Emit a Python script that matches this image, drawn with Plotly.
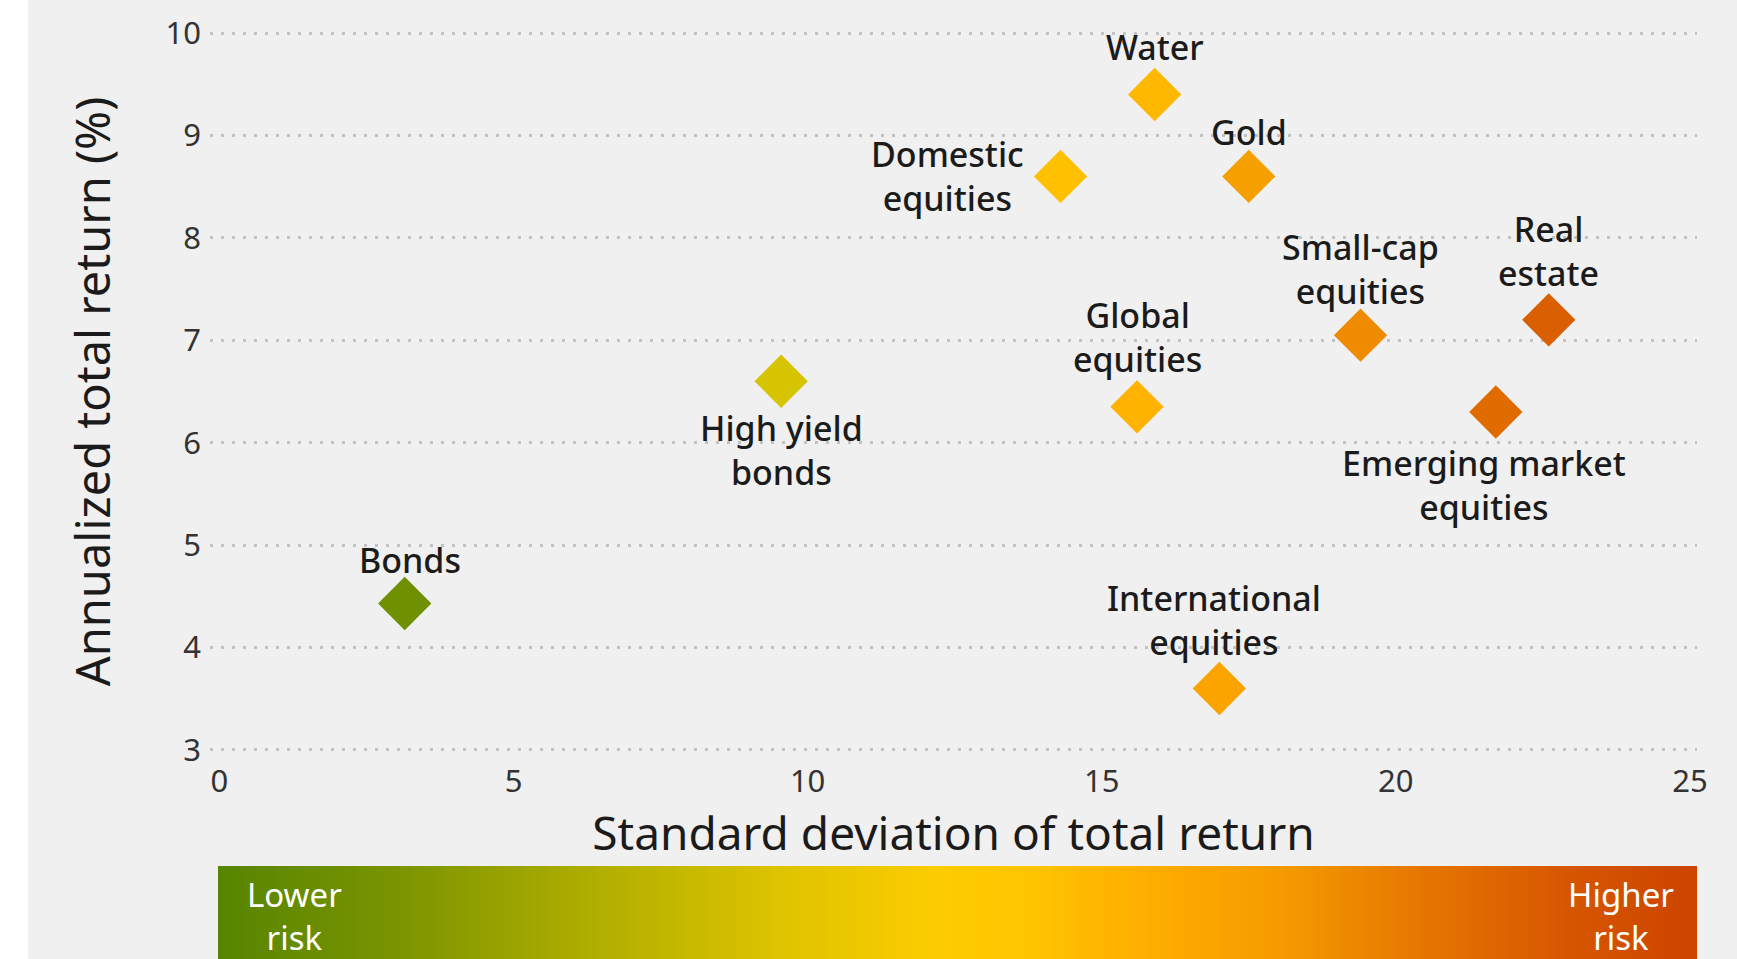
import numpy as np
import plotly.graph_objects as go

# ---- data ----
assets = ["Water", "Domestic<br>equities", "Gold", "Small-cap<br>equities", "Real<br>estate",
          "Global<br>equities", "Emerging market<br>equities", "High yield<br>bonds", "Bonds",
          "International<br>equities"]
std_dev = [15.9, 14.3, 17.5, 19.4, 22.6, 15.6, 21.7, 9.55, 3.15, 17.0]
ann_return = [9.4, 8.6, 8.6, 7.05, 7.2, 6.35, 6.3, 6.6, 4.43, 3.6]
colors = ["#ffb800", "#ffc000", "#f5a000", "#ef8b00", "#d95f00",
          "#ffb300", "#e06c00", "#d6c400", "#6f9000", "#fba400"]
# label placement (pixel offsets from marker)
label_dx = [0, -35, 0, 0, 0, 0, -12, 0, 5, -5]
label_dy = [48, 0, 44, 66, 69, 70, -73, -69, 44, 69]
label_xanchor = ["center", "right", "center", "center", "center", "center", "center", "center", "center", "center"]

x_ticks = [0, 5, 10, 15, 20, 25]
y_ticks = [3, 4, 5, 6, 7, 8, 9, 10]

risk_stops = [0.0, 0.12, 0.22, 0.31, 0.385, 0.485, 0.55, 0.62, 0.72, 0.82, 0.915, 1.0]
risk_colors = ["#578500", "#7a9400", "#a3a800", "#c4b800", "#e0c400", "#fccc00",
               "#ffc400", "#ffb000", "#f59a00", "#e57400", "#d65600", "#cc4400"]

FONT = "Noto Sans"
TXT = "#1b1b1b"

fig = go.Figure()

# gradient risk bar
N = 400
fig.add_trace(go.Heatmap(
    z=[list(np.linspace(0, 1, N))], x0=0.5 / N, dx=1.0 / N, y=[0],
    colorscale=[[s, c] for s, c in zip(risk_stops, risk_colors)],
    zmin=0, zmax=1, showscale=False, hoverinfo="skip",
    xaxis="x2", yaxis="y2"))

fig.add_trace(go.Scatter(
    x=std_dev, y=ann_return, mode="markers",
    marker=dict(symbol="diamond", size=41, color=colors, line=dict(width=0)),
    hoverinfo="skip", showlegend=False))

for name, xv, yv, dx, dy, xa in zip(assets, std_dev, ann_return, label_dx, label_dy, label_xanchor):
    fig.add_annotation(x=xv, y=yv, xref="x", yref="y", text=name, showarrow=False,
                       xanchor=xa, yanchor="middle", xshift=dx, yshift=dy,
                       font=dict(family=FONT, size=34, color=TXT, weight=500), align="center")

fig.add_annotation(x=(294 - 210) / 1487, y=(959 - 916) / 928, xref="paper", yref="paper", text="Lower<br>risk",
                   showarrow=False, font=dict(family=FONT, size=33, color="white"),
                   align="center", xanchor="center", yanchor="middle")
fig.add_annotation(x=(1621 - 210) / 1487, y=(959 - 916) / 928, xref="paper", yref="paper", text="Higher<br>risk",
                   showarrow=False, font=dict(family=FONT, size=33, color="white"),
                   align="center", xanchor="center", yanchor="middle")

# white strip on the far left
fig.add_shape(type="rect", xref="paper", yref="paper", x0=-0.2, x1=(28 - 210) / 1487,
              y0=-0.1, y1=1.1, fillcolor="white", line=dict(width=0), layer="below")

fig.update_layout(
    width=1737, height=959,
    margin=dict(l=210, r=40, t=31, b=0, pad=0, autoexpand=False),
    paper_bgcolor="#f0f0f0", plot_bgcolor="#f0f0f0",
    font=dict(family=FONT, color=TXT),
    showlegend=False,
    xaxis=dict(range=[-0.16, 25.12], tickvals=x_ticks, showgrid=False, zeroline=False,
               showline=False, ticks="", ticklabelstandoff=8, automargin=False,
               tickfont=dict(family=FONT, size=31, color="#333333"),
               title=dict(text="Standard deviation of total return",
                          font=dict(family=FONT, size=46, color=TXT), standoff=11),
               anchor="y"),
    yaxis=dict(range=[2.98, 10.02], tickvals=y_ticks, domain=[(959 - 752) / 928, 1],
               showgrid=True, gridcolor="#c2c2c2", gridwidth=3, griddash="3px,8px",
               zeroline=False, showline=False, ticks="", ticklabelstandoff=8, automargin=False,
               tickfont=dict(family=FONT, size=31, color="#333333"),
               title=dict(text="Annualized total return (%)",
                          font=dict(family=FONT, size=47, color=TXT), standoff=40),
               anchor="x"),
    xaxis2=dict(domain=[(218 - 210) / 1487, 1], range=[0, 1], showgrid=False, zeroline=False,
                showticklabels=False, showline=False, ticks="", anchor="y2", fixedrange=True,
                automargin=False),
    yaxis2=dict(domain=[0, (959 - 866) / 928], range=[-0.5, 0.5], showgrid=False, zeroline=False,
                showticklabels=False, showline=False, ticks="", anchor="x2", fixedrange=True,
                automargin=False),
)

fig.write_html("out.html", post_script="document.body.style.margin='0';",
               config={"displayModeBar": False})
